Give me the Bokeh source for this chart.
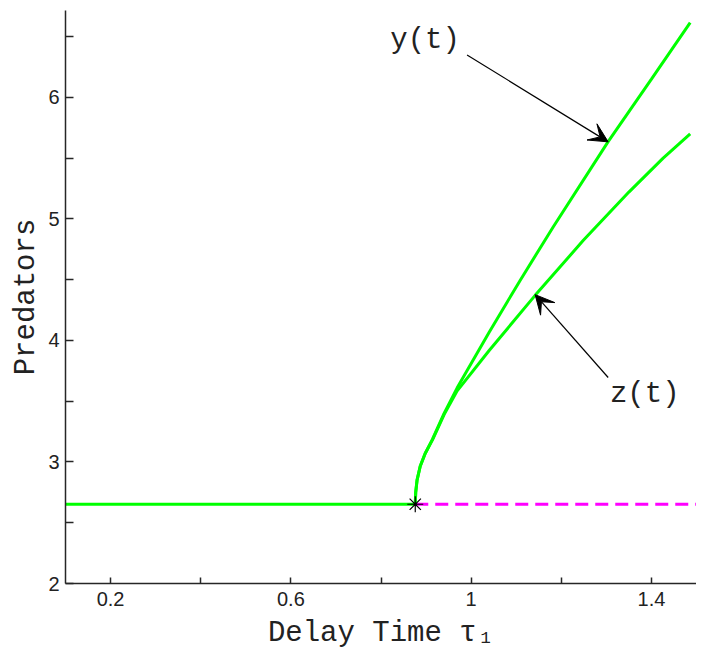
from bokeh.plotting import figure
from bokeh.models import FixedTicker, Arrow, VeeHead, ColumnDataSource
from bokeh.core.properties import value
from bokeh.embed import file_html
from bokeh.resources import INLINE

# ---- data ----
tau_bif = 0.876
eq_level = 2.652

# stable branch (green solid) and unstable branch (magenta dashed)
stable_x = [0.1, tau_bif]
stable_y = [eq_level, eq_level]
unstable_x = [tau_bif, 1.5]
unstable_y = [eq_level, eq_level]

# y(t) branch
yt_x = [0.876, 0.877, 0.880, 0.887, 0.898, 0.914, 0.940, 0.969, 1.040, 1.109, 1.182, 1.304, 1.400, 1.486]
yt_y = [2.652, 2.750, 2.850, 2.965, 3.070, 3.186, 3.400, 3.610, 4.068, 4.496, 4.934, 5.636, 6.150, 6.615]

# z(t) branch
zt_x = [0.876, 0.877, 0.880, 0.887, 0.898, 0.914, 0.940, 0.969, 1.040, 1.142, 1.249, 1.350, 1.426, 1.486]
zt_y = [2.652, 2.750, 2.850, 2.965, 3.070, 3.180, 3.390, 3.585, 3.917, 4.371, 4.824, 5.221, 5.500, 5.700]

# annotation labels and arrows
label_text = ["y(t)", "z(t)"]
label_x = [0.8206, 1.308]
label_y = [6.472, 3.556]
arrow_x0 = [0.991, 1.304]
arrow_y0 = [6.349, 3.695]
arrow_x1 = [1.304, 1.142]
arrow_y1 = [5.634, 4.377]

x_major = [0.2, 0.6, 1.0, 1.4]
x_minor = [0.4, 0.8, 1.2]
y_major = [2, 3, 4, 5, 6]
y_minor = [2.5, 3.5, 4.5, 5.5, 6.5]

GREEN = "#00ff00"
MAGENTA = "#ff00ff"
AXC = "#262626"
MONO = "Liberation Mono"

p = figure(width=696, height=652, x_range=(0.1, 1.5), y_range=(2, 6.715),
           output_backend="svg", toolbar_location=None,
           min_border_left=65, min_border_right=0, min_border_top=10, min_border_bottom=68)
p.outline_line_color = None
p.xgrid.visible = False
p.ygrid.visible = False
p.background_fill_color = "white"
p.border_fill_color = "white"

p.line(stable_x, stable_y, line_color=GREEN, line_width=3)
p.line(unstable_x, unstable_y, line_color=MAGENTA, line_width=3, line_dash="13 7")
p.line(yt_x, yt_y, line_color=GREEN, line_width=3)
p.line(zt_x, zt_y, line_color=GREEN, line_width=3)
p.scatter([tau_bif], [eq_level], marker="asterisk", size=16, line_color="black", line_width=1.2)

src = ColumnDataSource(dict(x0=arrow_x0, y0=arrow_y0, x1=arrow_x1, y1=arrow_y1))
p.add_layout(Arrow(end=VeeHead(size=19, fill_color="black", line_color="black", line_width=1),
                   x_start="x0", y_start="y0", x_end="x1", y_end="y1", source=src,
                   line_color="black", line_width=1.2))

p.text(label_x, label_y, text=label_text, text_font=value(MONO), text_font_size="29px",
       text_baseline="middle", text_align="left", text_color="#222222")

for ax in (p.xaxis[0], p.yaxis[0]):
    ax.axis_line_color = AXC
    ax.axis_line_width = 1.5
    ax.major_tick_line_color = AXC
    ax.minor_tick_line_color = AXC
    ax.major_tick_line_width = 1.5
    ax.minor_tick_line_width = 1.5
    ax.major_tick_out = 0
    ax.minor_tick_out = 0
    ax.major_label_text_font = "Liberation Sans"
    ax.major_label_text_font_size = "20px"
    ax.major_label_text_color = "#222222"
    ax.axis_label_text_font = MONO
    ax.axis_label_text_font_size = "29px"
    ax.axis_label_text_font_style = "normal"
    ax.axis_label_text_color = "#222222"

p.xaxis.ticker = FixedTicker(ticks=x_major, minor_ticks=x_minor)
p.xaxis.major_label_overrides = {0.2: "0.2", 0.6: "0.6", 1.0: "1", 1.4: "1.4"}
p.xaxis.major_tick_in = 6
p.xaxis.minor_tick_in = 6
p.xaxis.major_label_standoff = 8
p.xaxis.axis_label = "Delay Time τ₁"
p.xaxis.axis_label_standoff = 8

p.yaxis.ticker = FixedTicker(ticks=y_major, minor_ticks=y_minor)
p.yaxis.major_tick_in = 8
p.yaxis.minor_tick_in = 8
p.yaxis.major_label_standoff = 6
p.yaxis.axis_label = "Predators"
p.yaxis.axis_label_standoff = 2

open("out.html", "w").write(file_html(p, INLINE))
